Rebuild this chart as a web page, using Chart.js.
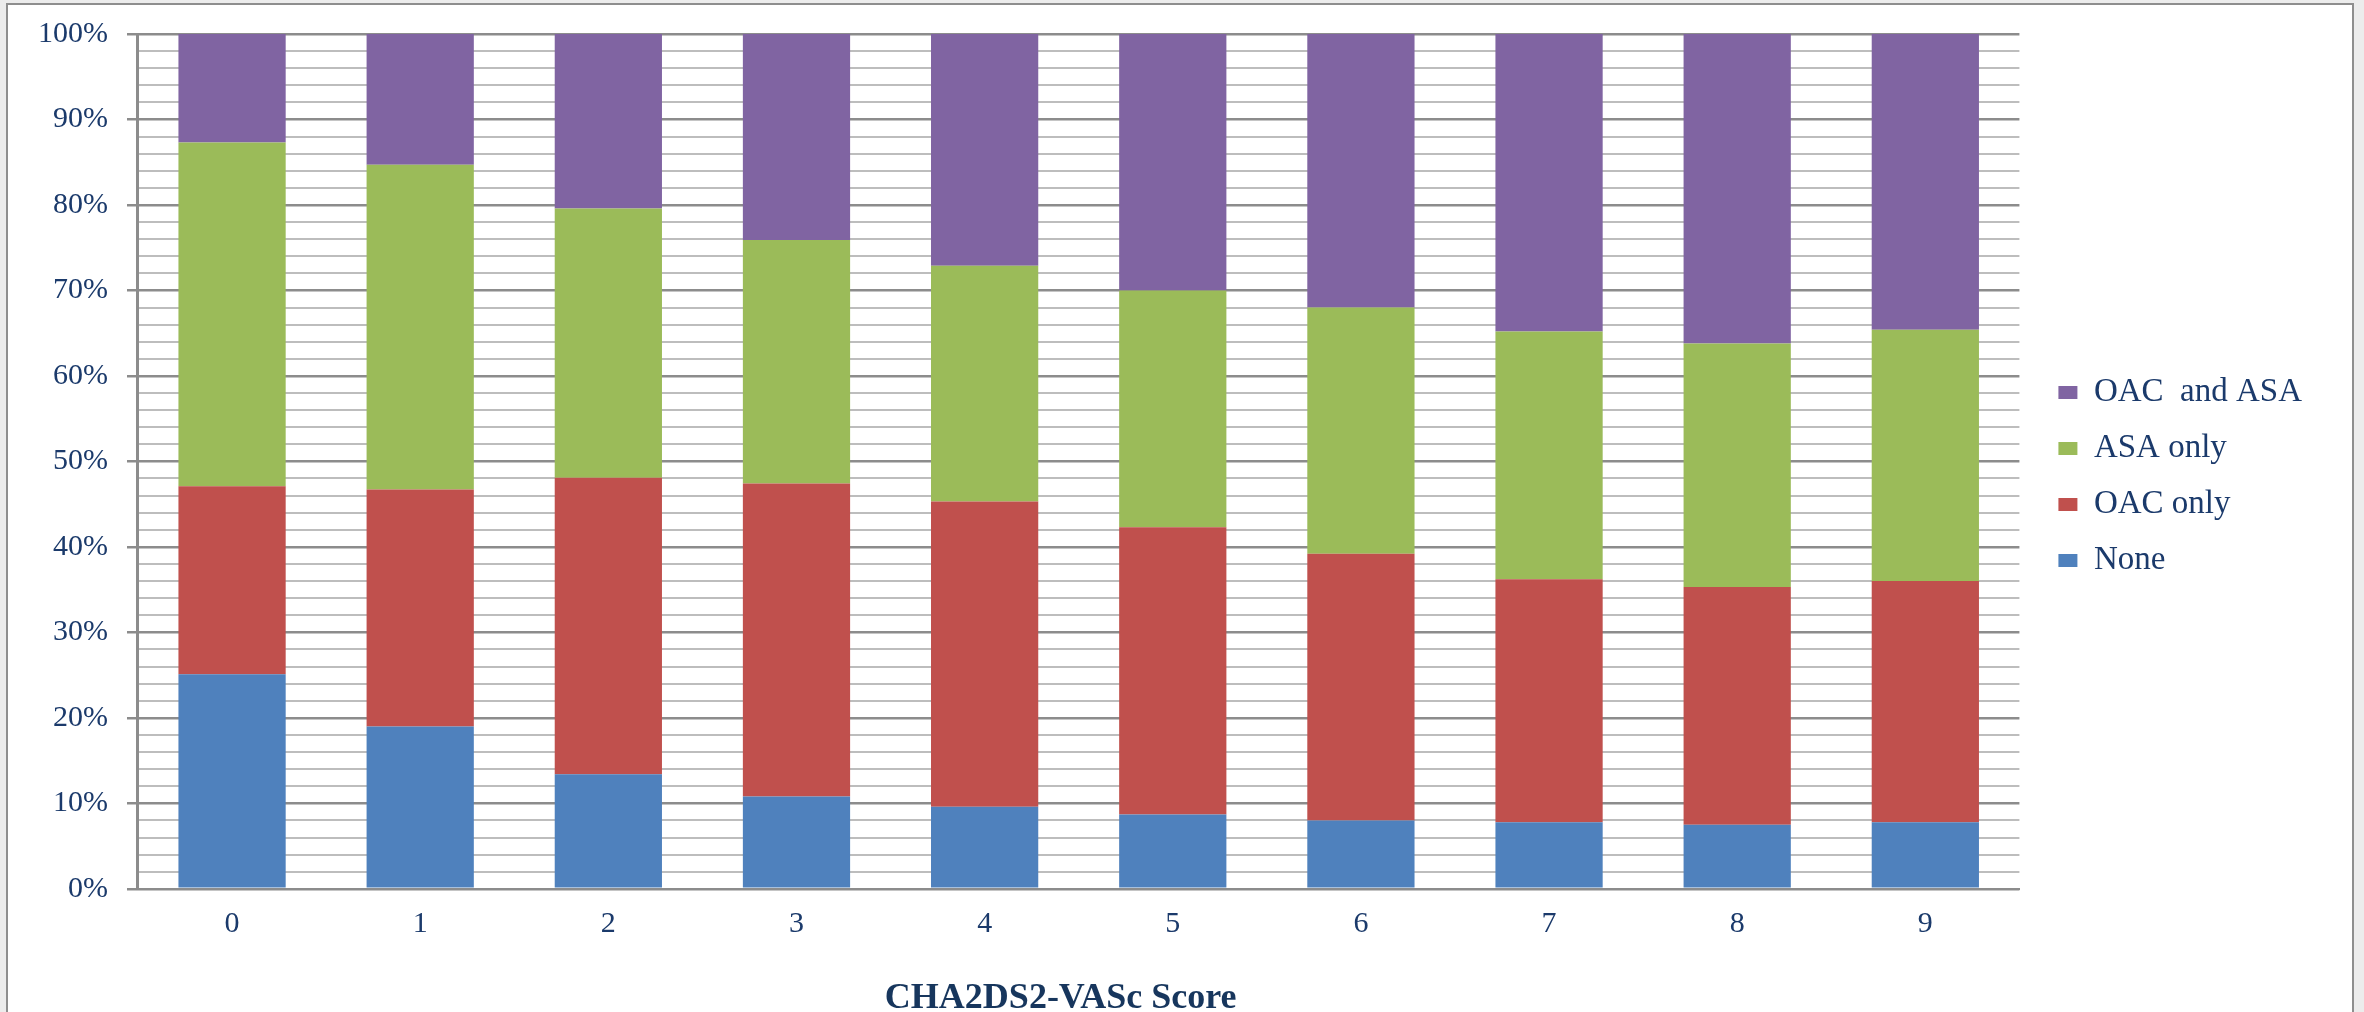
<!DOCTYPE html>
<html>
<head>
<meta charset="utf-8">
<script src="https://cdn.jsdelivr.net/npm/chart.js@4.4.1/dist/chart.umd.min.js"></script>
<style>
  html, body { margin: 0; padding: 0; background: #ececec; overflow: hidden; }
  #frame { position: absolute; left: 6px; top: 3px; width: 2348px; height: 1040px;
           background: #fff; border: 2px solid #8e8e8e; box-sizing: border-box; }
  #wrap { position: absolute; left: 0; top: 0; width: 2364px; height: 1012px; }
</style>
</head>
<body>
<div id="frame"></div>
<div id="wrap"><canvas id="c" width="2364" height="1012"></canvas></div>
<script>
// CHA2DS2-VASc score categories
const scores = ['0', '1', '2', '3', '4', '5', '6', '7', '8', '9'];

// Share of patients (%) per antithrombotic treatment, by score
const noneShare      = [25.1, 19.0, 13.4, 10.8,  9.6,  8.7,  8.0,  7.8,  7.5,  7.8];
const oacOnlyShare   = [22.0, 27.7, 34.7, 36.6, 35.7, 33.6, 31.2, 28.4, 27.8, 28.2];
const asaOnlyShare   = [40.2, 38.0, 31.5, 28.5, 27.6, 27.7, 28.8, 29.0, 28.5, 29.4];
const oacAndAsaShare = [12.7, 15.3, 20.4, 24.1, 27.1, 30.0, 32.0, 34.8, 36.2, 34.6];

const seriesNames = ['None', 'OAC only', 'ASA only', 'OAC  and ASA'];
const seriesColors = ['#4F81BD', '#C0504D', '#9BBB59', '#8064A2'];

// Y-axis: a line every 2 %, labelled every 10 %
const yMax = 100;
const yStep = 2;
const yLabelEvery = 10;

const textColor = '#1b3a6b';
const serif = '"Liberation Serif", "Times New Roman", serif';
const majorGrid = '#8c8c8c';
const minorGrid = '#bdbdbd';

const seriesValues = [noneShare, oacOnlyShare, asaOnlyShare, oacAndAsaShare];

// Leaves a little extra room between the plot and the legend keys
const legendGap = {
  id: 'legendGap',
  afterLayout(chart) {
    const lg = chart.legend;
    if (lg) { lg.left += 16; lg.right += 16; }
  }
};

new Chart(document.getElementById('c'), {
  type: 'bar',
  data: {
    labels: scores,
    datasets: seriesNames.map((name, i) => ({
      label: name,
      data: seriesValues[i],
      backgroundColor: seriesColors[i],
      borderWidth: 0,
      categoryPercentage: 1.0,
      barPercentage: 0.57
    }))
  },
  plugins: [legendGap],
  options: {
    responsive: false,
    animation: false,
    devicePixelRatio: 1,
    layout: { padding: { top: 7, left: 19, right: 68, bottom: 0 } },
    scales: {
      x: {
        stacked: true,
        grid: { display: false, drawTicks: false },
        border: { color: majorGrid, width: 2 },
        ticks: { color: textColor, font: { family: serif, size: 30 }, padding: 17 },
        title: {
          display: true,
          text: 'CHA2DS2-VASc Score    ',
          color: '#17365d',
          font: { family: serif, size: 36, weight: 'bold' },
          padding: { top: 18, bottom: -8 }
        }
      },
      y: {
        stacked: true,
        min: 0,
        max: yMax,
        border: { color: majorGrid, width: 3 },
        grid: {
          drawTicks: true,
          tickLength: 11,
          color: c => (c.tick && c.tick.value % yLabelEvery === 0) ? majorGrid : minorGrid,
          lineWidth: c => (c.tick && c.tick.value % yLabelEvery === 0) ? 2.5 : 2,
          tickColor: c => (c.tick && c.tick.value % yLabelEvery === 0) ? majorGrid : 'rgba(0,0,0,0)',
          tickWidth: 2.5
        },
        ticks: {
          stepSize: yStep,
          autoSkip: false,
          padding: 19,
          color: textColor,
          font: { family: serif, size: 30, lineHeight: 1.0 },
          callback: v => (v % yLabelEvery === 0) ? v + '%' : ''
        }
      }
    },
    plugins: {
      tooltip: { enabled: false },
      legend: {
        position: 'right',
        align: 'center',
        fullSize: false,
        reverse: true,
        title: { display: true, text: '', font: { size: 25 }, padding: 0 },
        labels: {
          boxWidth: 19,
          boxHeight: 13,
          padding: 23,
          color: textColor,
          font: { family: serif, size: 33 }
        }
      }
    }
  }
});
</script>
</body>
</html>
